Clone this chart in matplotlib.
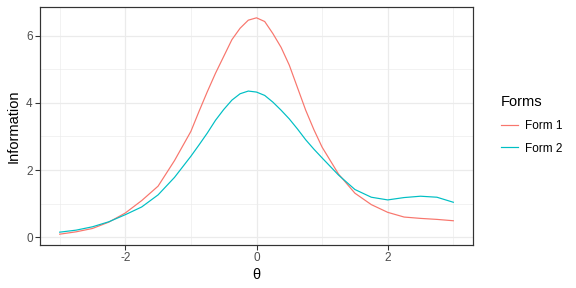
import matplotlib
matplotlib.use('Agg')
import matplotlib.pyplot as plt
import numpy as np

plt.rcParams['font.family'] = ['Liberation Sans', 'DejaVu Sans']
plt.rcParams['axes.unicode_minus'] = False

# theta grid (finer round the peak) and test information for each form
theta = [-3, -2.75, -2.5, -2.25, -2, -1.75, -1.5, -1.25,
         -1, -0.875, -0.75, -0.625, -0.5, -0.375, -0.25, -0.125,
         0, 0.125, 0.25, 0.375, 0.5, 0.625, 0.75, 0.875,
         1, 1.25, 1.5, 1.75, 2, 2.25, 2.5, 2.75, 3]
form1 = [0.09, 0.16, 0.26, 0.45, 0.72, 1.09, 1.52, 2.28,
         3.15, 3.75, 4.33, 4.88, 5.38, 5.88, 6.22, 6.46,
         6.53, 6.42, 6.06, 5.65, 5.12, 4.45, 3.78, 3.20,
         2.68, 1.88, 1.31, 0.97, 0.74, 0.60, 0.56, 0.53, 0.49]
form2 = [0.15, 0.21, 0.31, 0.46, 0.67, 0.90, 1.26, 1.78,
         2.41, 2.75, 3.10, 3.48, 3.80, 4.08, 4.27, 4.35,
         4.32, 4.22, 4.02, 3.78, 3.52, 3.22, 2.90, 2.62,
         2.36, 1.85, 1.42, 1.19, 1.11, 1.18, 1.22, 1.19, 1.04]
labels = ['Form 1', 'Form 2']
colors = ['#F8766D', '#00BFC4']

fig = plt.figure(figsize=(6, 3), dpi=96)
ax = fig.add_axes([40/576, 1 - 245/288, 433/576, 238/288])

for vals, lab, col in zip([form1, form2], labels, colors):
    ax.plot(theta, vals, color=col, lw=0.9, label=lab)

# ggplot-like default expansion (5%)
allv = form1 + form2
span = max(allv) - min(allv)
ax.set_xlim(-3.3, 3.3)
ax.set_ylim(min(allv) - 0.05 * span, max(allv) + 0.05 * span)

ax.set_xticks([-2, 0, 2])
ax.set_yticks([0, 2, 4, 6])
ax.set_xticks([-3, -1, 1, 3], minor=True)
ax.set_yticks([1, 3, 5], minor=True)
ax.grid(which='major', color='#EBEBEB', lw=0.9)
ax.grid(which='minor', color='#EBEBEB', lw=0.45)
ax.set_axisbelow(True)
ax.tick_params(which='major', length=3.5, width=0.8, color='#333333',
               labelcolor='#4D4D4D', labelsize=8.8, pad=2)
ax.tick_params(which='minor', length=0)
for s in ax.spines.values():
    s.set_color('#333333')
    s.set_linewidth(0.9)

ax.set_xlabel('θ', fontsize=11, labelpad=3)
ax.set_ylabel('Information', fontsize=11, labelpad=4)

leg = fig.legend(loc='center left', bbox_to_anchor=(490/576, 1 - 125/288),
                 frameon=False, title='Forms', title_fontsize=11, fontsize=8.8,
                 handlelength=1.5, handletextpad=0.6, labelspacing=0.9,
                 alignment='left')

fig.savefig('out.png', dpi=96)
